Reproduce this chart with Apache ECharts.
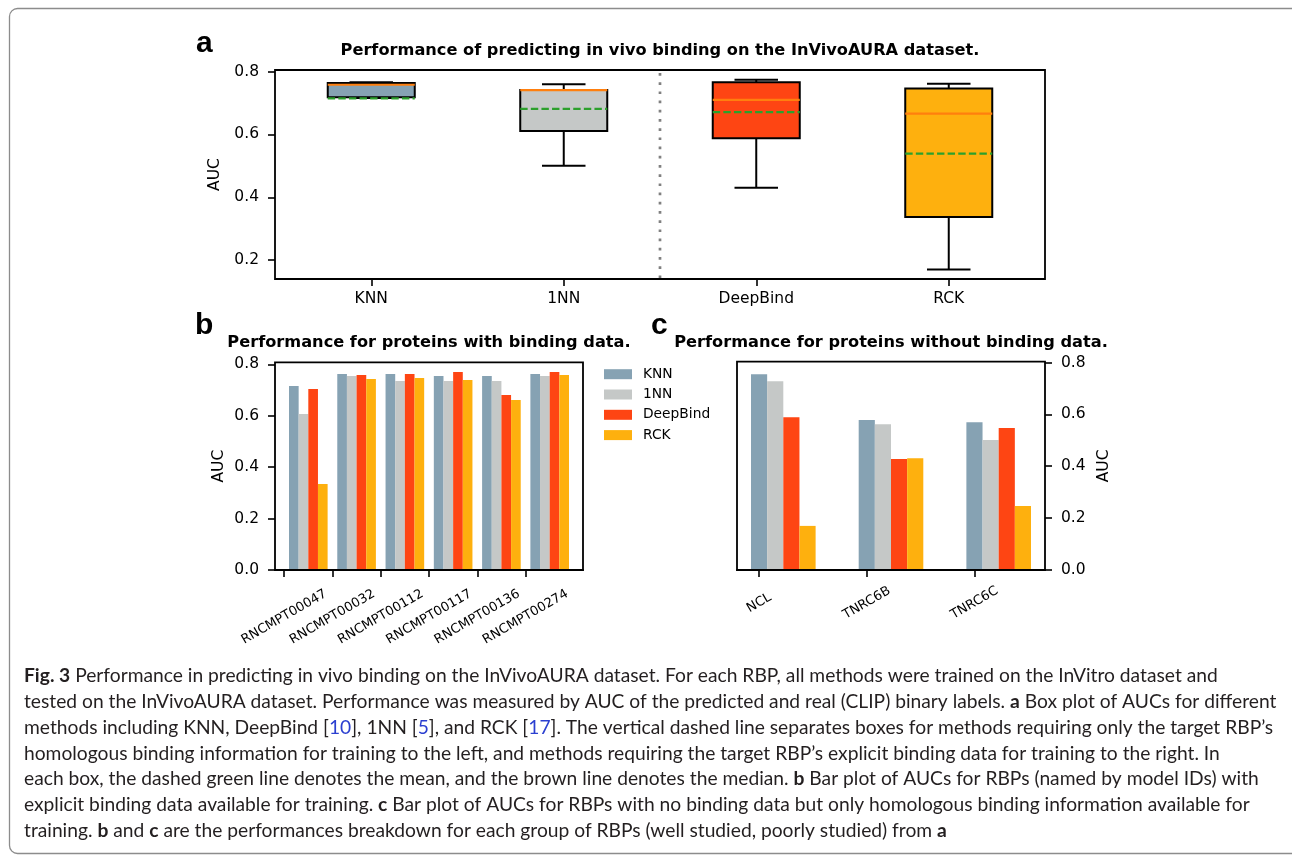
<!DOCTYPE html>
<html><head><meta charset="utf-8">
<script src="https://cdn.jsdelivr.net/npm/echarts@6/dist/echarts.min.js"></script>
<style>html,body{margin:0;padding:0;background:#fff}#chart{width:1292px;height:856px}</style>
</head><body><div id="chart"></div>
<script>
// ---------- DATA ----------
const methods = ['KNN', '1NN', 'DeepBind', 'RCK'];
// panel a: box plot summary
const boxMin    = [0.716, 0.500, 0.430, 0.170];
const boxQ1     = [0.718, 0.611, 0.588, 0.337];
const boxMedian = [0.758, 0.741, 0.710, 0.666];
const boxQ3     = [0.764, 0.741, 0.766, 0.746];
const boxMax    = [0.766, 0.760, 0.774, 0.761];
const boxMean   = [0.715, 0.681, 0.671, 0.539];
const dividerAfter = 1; // dotted line between 1NN and DeepBind

// panel b
const bCategories = ['RNCMPT00047', 'RNCMPT00032', 'RNCMPT00112', 'RNCMPT00117', 'RNCMPT00136', 'RNCMPT00274'];
const bKNN      = [0.716, 0.762, 0.762, 0.755, 0.755, 0.762];
const b1NN      = [0.607, 0.755, 0.735, 0.735, 0.735, 0.755];
const bDeepBind = [0.704, 0.759, 0.762, 0.770, 0.681, 0.770];
const bRCK      = [0.335, 0.743, 0.747, 0.739, 0.661, 0.759];

// panel c
const cCategories = ['NCL', 'TNRC6B', 'TNRC6C'];
const cKNN      = [0.755, 0.578, 0.570];
const c1NN      = [0.728, 0.562, 0.501];
const cDeepBind = [0.589, 0.428, 0.547];
const cRCK      = [0.170, 0.431, 0.247];

const yTicksA = [0.2, 0.4, 0.6, 0.8];
const yTicksBC = [0.0, 0.2, 0.4, 0.6, 0.8];

// ---------- STYLE ----------
const methodColors = ['#86a2b3', '#c5c8c7', '#fe4513', '#feb00e'];
const FONT = 'DejaVu Sans';
const TICK_FS = 15.5;
const TITLE_FS = 16.2;

const chart = echarts.init(document.getElementById('chart'), null, {renderer: 'canvas'});

function boxRender(params, api) {
  const i = api.value(0);
  const band = api.size([1, 0])[0];
  const half = band * 0.452 / 2;
  const capHalf = half / 2;
  const x = api.coord([i, 0])[0];
  const y = k => api.coord([i, api.value(k)])[1];
  const yMin = y(1), yQ1 = y(2), yMed = y(3), yQ3 = y(4), yMax = y(5), yMean = y(6);
  const blk = {stroke: '#000', lineWidth: 2};
  return {type: 'group', children: [
    {type: 'line', shape: {x1: x, y1: yQ3, x2: x, y2: yMax}, style: blk},
    {type: 'line', shape: {x1: x, y1: yQ1, x2: x, y2: yMin}, style: blk},
    {type: 'line', shape: {x1: x - capHalf, y1: yMax, x2: x + capHalf, y2: yMax}, style: blk},
    {type: 'line', shape: {x1: x - capHalf, y1: yMin, x2: x + capHalf, y2: yMin}, style: blk},
    {type: 'rect', shape: {x: x - half, y: yQ3, width: 2 * half, height: yQ1 - yQ3},
      style: {fill: methodColors[i], stroke: '#000', lineWidth: 2}},
    {type: 'line', shape: {x1: x - half, y1: yMed, x2: x + half, y2: yMed},
      style: {stroke: '#ff7f0e', lineWidth: 2.2}},
    {type: 'line', shape: {x1: x - half, y1: yMean, x2: x + half, y2: yMean},
      style: {stroke: '#2ca02c', lineWidth: 2.2, lineDash: [7.4, 3.2]}}
  ]};
}

function dividerRender(params, api) {
  const i = api.value(0);
  const x = (api.coord([i, 0.5])[0] + api.coord([i + 1, 0.5])[0]) / 2;
  const cs = params.coordSys;
  return {type: 'line', shape: {x1: x, y1: cs.y + 3, x2: x, y2: cs.y + cs.height},
    style: {stroke: '#808080', lineWidth: 2.7, lineDash: [2.7, 6.5]}};
}

function makeBarRender(offsets, width, k) {
  return function (params, api) {
    const i = api.value(0), v = api.value(1);
    const cx = i + offsets[k];
    const p0 = api.coord([cx - width / 2, 0]);
    const p1 = api.coord([cx + width / 2, v]);
    return {type: 'rect', shape: {x: p0[0], y: p1[1], width: p1[0] - p0[0], height: p0[1] - p1[1]},
      style: {fill: methodColors[k]}};
  };
}

const bSeriesData = [bKNN, b1NN, bDeepBind, bRCK];
const cSeriesData = [cKNN, c1NN, cDeepBind, cRCK];
const bOffsets = [0.2, 0.4, 0.6, 0.8], bWidth = 0.2;
const cOffsets = [0.0, 0.15, 0.30, 0.45], cWidth = 0.15;

const tickStyle = {show: true, length: 7, lineStyle: {color: '#000', width: 1.6}};
const frame = {show: true, borderColor: '#000', borderWidth: 1.8, backgroundColor: 'transparent'};
const yName = {fontSize: 15.5, fontFamily: FONT, color: '#000'};
const fmt1 = v => v.toFixed(1);

const series = [];
series.push({
  type: 'custom', name: 'box', xAxisIndex: 0, yAxisIndex: 0,
  renderItem: boxRender, encode: {x: 0, y: [1, 2, 3, 4, 5, 6]},
  data: methods.map((m, i) => [i, boxMin[i], boxQ1[i], boxMedian[i], boxQ3[i], boxMax[i], boxMean[i]]),
  z: 3, silent: true
});
series.push({
  type: 'custom', name: 'divider', xAxisIndex: 0, yAxisIndex: 0,
  renderItem: dividerRender, encode: {x: 0}, data: [[dividerAfter]], z: 2, silent: true
});
methods.forEach((m, k) => {
  series.push({
    type: 'custom', name: m, xAxisIndex: 1, yAxisIndex: 1,
    renderItem: makeBarRender(bOffsets, bWidth, k), encode: {x: 0, y: 1},
    itemStyle: {color: methodColors[k]},
    data: bSeriesData[k].map((v, i) => [i, v]), z: 2
  });
  series.push({
    type: 'custom', name: m, xAxisIndex: 2, yAxisIndex: 2,
    renderItem: makeBarRender(cOffsets, cWidth, k), encode: {x: 0, y: 1},
    itemStyle: {color: methodColors[k]},
    data: cSeriesData[k].map((v, i) => [i, v]), z: 2
  });
});

// caption
const captionLines = [
  '{b|Fig. 3} Performance in predicting in vivo binding on the InVivoAURA dataset. For each RBP, all methods were trained on the InVitro dataset and',
  'tested on the InVivoAURA dataset. Performance was measured by AUC of the predicted and real (CLIP) binary labels. {b|a} Box plot of AUCs for different',
  'methods including KNN, DeepBind [{l|10}], 1NN [{l|5}], and RCK [{l|17}]. The vertical dashed line separates boxes for methods requiring only the target RBP\u2019s',
  'homologous binding information for training to the left, and methods requiring the target RBP\u2019s explicit binding data for training to the right. In',
  'each box, the dashed green line denotes the mean, and the brown line denotes the median. {b|b} Bar plot of AUCs for RBPs (named by model IDs) with',
  'explicit binding data available for training. {b|c} Bar plot of AUCs for RBPs with no binding data but only homologous binding information available for',
  'training. {b|b} and {b|c} are the performances breakdown for each group of RBPs (well studied, poorly studied) from {b|a}'
];
const CAP_FONT = 'Lato';
const ctx = document.createElement('canvas').getContext('2d');
ctx.font = '16px ' + CAP_FONT;
const plain2 = captionLines[1].replace(/\{\w\|([^}]*)\}/g, '$1');
const capFS = 16 * 1253 / ctx.measureText(plain2).width;

const letterStyle = {fontSize: 30, fontWeight: 'bold', fontFamily: 'Liberation Sans', fill: '#000', align: 'left', verticalAlign: 'middle'};
const titleStyle = {fontSize: TITLE_FS, fontWeight: 'bold', fontFamily: FONT, fill: '#000', align: 'center', verticalAlign: 'middle'};
const graphics = [
  {type: 'rect', shape: {x: 9.5, y: 8.5, width: 1300, height: 845, r: 8},
    style: {fill: 'none', stroke: '#8c8c8c', lineWidth: 1.3}, z: -1, silent: true},
  {type: 'text', x: 196, y: 43.6, style: Object.assign({text: 'a'}, letterStyle)},
  {type: 'text', x: 195, y: 326, style: Object.assign({text: 'b'}, letterStyle)},
  {type: 'text', x: 651, y: 325.6, style: Object.assign({text: 'c'}, letterStyle)},
  {type: 'text', x: 660, y: 51, style: Object.assign({text: 'Performance of predicting in vivo binding on the InVivoAURA dataset.'}, titleStyle)},
  {type: 'text', x: 429, y: 342.5, style: Object.assign({text: 'Performance for proteins with binding data.'}, titleStyle)},
  {type: 'text', x: 891, y: 342.5, style: Object.assign({text: 'Performance for proteins without binding data.'}, titleStyle)}
];
captionLines.forEach((t, j) => {
  graphics.push({type: 'text', x: 24, y: 683 + 25.8 * j - 0.36 * capFS,
    style: {text: t, fontSize: capFS, fontFamily: CAP_FONT, fill: '#231f20', align: 'left', verticalAlign: 'middle',
      rich: {
        b: {fontSize: capFS, fontFamily: CAP_FONT, fontWeight: 'bold', fill: '#231f20'},
        l: {fontSize: capFS, fontFamily: CAP_FONT, fill: '#2b3fd0'}
      }}});
});

const noLine = {show: false, onZero: false};
const option = {
  animation: false,
  backgroundColor: '#fff',
  textStyle: {fontFamily: FONT},
  grid: [
    Object.assign({left: 275, top: 70, width: 770, height: 209}, frame),
    Object.assign({left: 275, top: 362.3, width: 308, height: 207.7}, frame),
    Object.assign({left: 737, top: 361.7, width: 308, height: 208.3}, frame)
  ],
  xAxis: [
    {type: 'category', gridIndex: 0, data: methods, boundaryGap: true,
      axisLine: noLine, axisTick: Object.assign({alignWithLabel: true}, tickStyle),
      axisLabel: {fontSize: TICK_FS, color: '#000', fontFamily: FONT, margin: 12}, splitLine: {show: false}},
    {type: 'value', gridIndex: 1, min: -0.19, max: 6.19, z: 10,
      axisLine: {show: true, onZero: false, lineStyle: {color: '#000', width: 1.8}},
      axisTick: Object.assign({customValues: bCategories.map((c, i) => i)}, tickStyle),
      axisLabel: {customValues: bCategories.map((c, i) => i), formatter: v => bCategories[Math.round(v)],
        rotate: 30, align: 'center', verticalAlign: 'middle', margin: 47, fontSize: 13, color: '#000', fontFamily: FONT},
      splitLine: {show: false}},
    {type: 'value', gridIndex: 2, min: -0.205, max: 2.655, z: 10,
      axisLine: {show: true, onZero: false, lineStyle: {color: '#000', width: 1.8}},
      axisTick: Object.assign({customValues: cCategories.map((c, i) => i)}, tickStyle),
      axisLabel: {customValues: cCategories.map((c, i) => i), formatter: v => cCategories[Math.round(v)],
        rotate: 30, align: 'center', verticalAlign: 'middle', margin: 33, fontSize: 13, color: '#000', fontFamily: FONT},
      splitLine: {show: false}}
  ],
  yAxis: [
    {type: 'value', gridIndex: 0, min: 0.14, max: 0.805, axisLine: noLine,
      axisTick: Object.assign({customValues: yTicksA}, tickStyle),
      axisLabel: {customValues: yTicksA, formatter: fmt1, fontSize: TICK_FS, color: '#000', fontFamily: FONT, margin: 16},
      splitLine: {show: false},
      name: 'AUC', nameLocation: 'middle', nameRotate: 90, nameGap: 48, nameTextStyle: yName},
    {type: 'value', gridIndex: 1, min: 0, max: 0.808, axisLine: noLine,
      axisTick: Object.assign({customValues: yTicksBC}, tickStyle),
      axisLabel: {customValues: yTicksBC, formatter: fmt1, fontSize: TICK_FS, color: '#000', fontFamily: FONT, margin: 16},
      splitLine: {show: false},
      name: 'AUC', nameLocation: 'middle', nameRotate: 90, nameGap: 48, nameTextStyle: yName},
    {type: 'value', gridIndex: 2, position: 'right', min: 0, max: 0.803, axisLine: noLine,
      axisTick: Object.assign({customValues: yTicksBC}, tickStyle),
      axisLabel: {customValues: yTicksBC, formatter: fmt1, fontSize: TICK_FS, color: '#000', fontFamily: FONT, margin: 16},
      splitLine: {show: false},
      name: 'AUC', nameLocation: 'middle', nameRotate: 90, nameGap: 51, nameTextStyle: yName}
  ],
  legend: {
    data: methods, orient: 'vertical', left: 604, top: 367.2, padding: 0,
    itemWidth: 28, itemHeight: 10, itemGap: 6.3, icon: 'rect',
    textStyle: {fontSize: 13.8, fontFamily: FONT, color: '#000', padding: [0, 0, 0, 6]},
    selectedMode: false
  },
  graphic: graphics,
  series: series
};
chart.setOption(option);
</script>
</body></html>
